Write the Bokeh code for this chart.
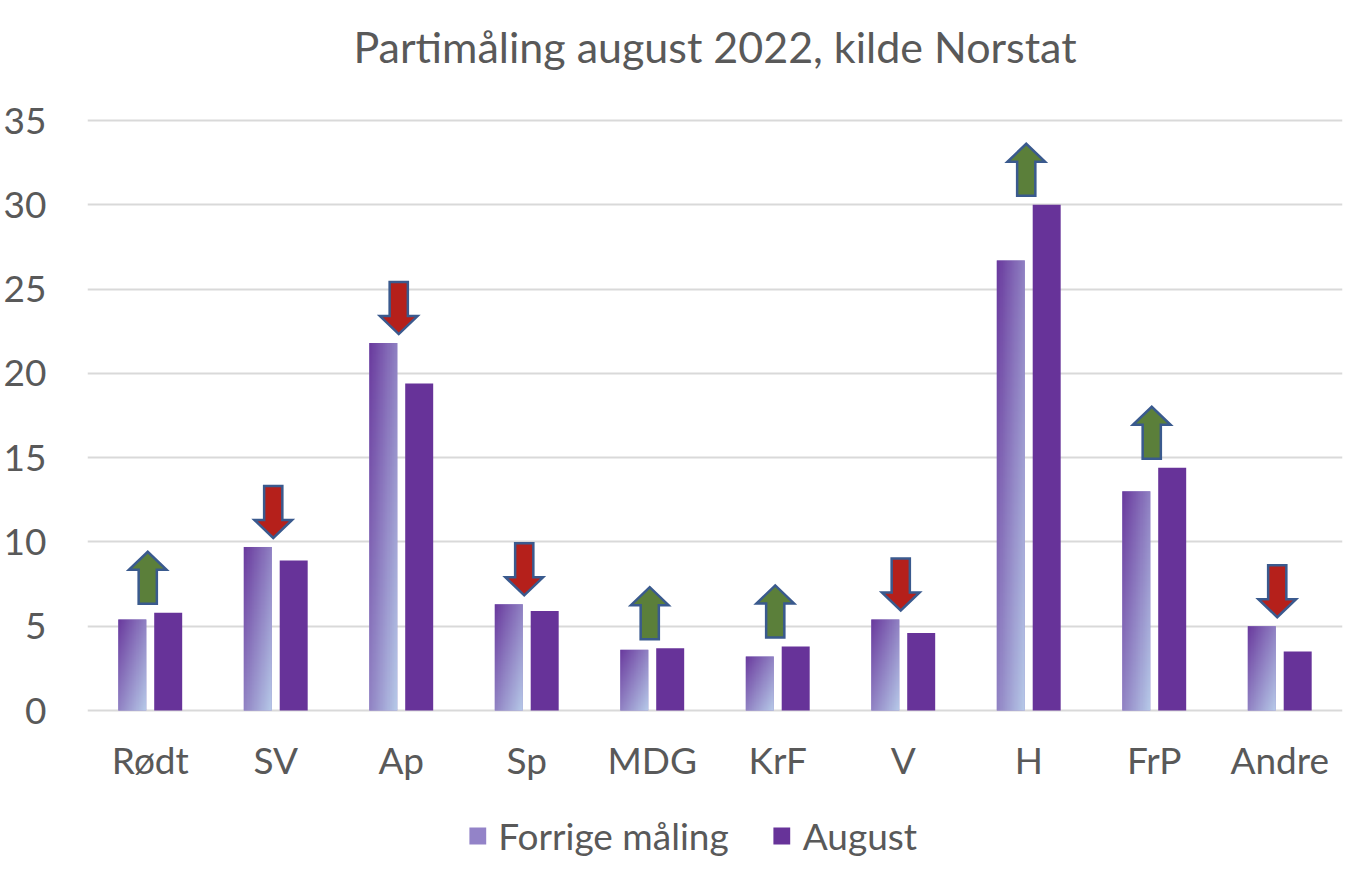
import numpy as np
from bokeh.plotting import figure
from bokeh.models import Range1d, FixedTicker, Legend, LegendItem, ColumnDataSource, Title
from bokeh.core.properties import value
from bokeh.embed import file_html
from bokeh.resources import INLINE

# ---- data ----
parties = ["Rødt", "SV", "Ap", "Sp", "MDG", "KrF", "V", "H", "FrP", "Andre"]
forrige = [5.4, 9.7, 21.8, 6.3, 3.6, 3.2, 5.4, 26.7, 13.0, 5.0]
august = [5.8, 8.9, 19.4, 5.9, 3.7, 3.8, 4.6, 30.0, 14.4, 3.5]
y_ticks = [0, 5, 10, 15, 20, 25, 30, 35]
title_text = "Partimåling august 2022, kilde Norstat"
series_names = ["Forrige måling", "August"]

FONT = "Lato"
TEXT = "#595959"
GRID = "#D9D9D9"
AUG_COLOR = "#673399"
GRAD_TOP = np.array([0x6A, 0x3A, 0x9E])
GRAD_BOT = np.array([0xB8, 0xCC, 0xEA])
UP_FILL = "#5B7F3A"
DOWN_FILL = "#B5201B"
ARROW_LINE = "#3A5A8E"

n = len(parties)
xs = np.arange(n)
bw = 0.223
off = 0.143

# layout: value axis spans 590 px for 0..35; frame continues below 0 to hold labels + legend
PLOT_PX = 592
Y_TOP = 35.12
upp = Y_TOP / PLOT_PX              # data units per pixel
BELOW_PX = 168
FRAME_H = PLOT_PX + BELOW_PX
y_bottom = -BELOW_PX * upp

p = figure(frame_width=1255, frame_height=FRAME_H, output_backend="svg", toolbar_location=None,
           x_range=Range1d(-0.5, n - 0.5), y_range=Range1d(y_bottom, Y_TOP),
           title_location=None, x_axis_location=None,
           min_border_left=79, min_border_right=4, min_border_top=118, min_border_bottom=0)
p.outline_line_color = None
p.background_fill_color = "white"
p.border_fill_color = "white"

# spacer (closest to the frame) and the real title above it
spacer = Title(text=" ", text_font_size="2px", standoff=41)
p.add_layout(spacer, "above")
title = Title(text=title_text, align="center", text_font=FONT, text_font_size="43px",
              text_font_style="normal", text_color=TEXT, standoff=4)
p.add_layout(title, "above")

# value axis
p.yaxis.ticker = FixedTicker(ticks=y_ticks)
p.yaxis.axis_line_color = None
p.yaxis.major_tick_line_color = None
p.yaxis.minor_tick_line_color = None
p.yaxis.major_label_text_font = FONT
p.yaxis.major_label_text_font_size = "37px"
p.yaxis.major_label_text_color = TEXT
p.yaxis.major_label_standoff = 35

p.xgrid.grid_line_color = None
p.ygrid.grid_line_color = GRID
p.ygrid.grid_line_width = 2

# category labels below the zero line
p.text(x=xs, y=[-49 * upp] * n, text=parties, text_align="center",
       text_baseline="alphabetic", text_font=value(FONT), text_font_size="37px",
       text_color=TEXT)

# Forrige: base bar (legend swatch colour) + gradient image on top
src = ColumnDataSource(dict(xf=xs - off, xa=xs + off, forrige=forrige, august=august))
r_forr = p.vbar(x="xf", top="forrige", width=bw, source=src,
                fill_color="#9383C8", line_color=None)

H, W = 200, 40
u = np.linspace(0, 1, W)[None, :]
v_from_top = 1 - np.linspace(0, 1, H)[:, None]
t = np.clip((u + v_from_top) / 2, 0, 1)
rgb = GRAD_TOP[None, None, :] * (1 - t[..., None]) + GRAD_BOT[None, None, :] * t[..., None]
img = np.zeros((H, W), dtype=np.uint32)
view = img.view(dtype=np.uint8).reshape((H, W, 4))
view[..., 0] = rgb[..., 0].astype(np.uint8)
view[..., 1] = rgb[..., 1].astype(np.uint8)
view[..., 2] = rgb[..., 2].astype(np.uint8)
view[..., 3] = 255
p.image_rgba(image=[img] * n, x=list(xs - off - bw / 2), y=[0] * n,
             dw=[bw] * n, dh=forrige)

r_aug = p.vbar(x="xa", top="august", width=bw, source=src,
               fill_color=AUG_COLOR, line_color=None)

# arrows derived from the change between the two series
gap = 9 * upp
head_h = 18 * upp
shaft_h = 34 * upp
head_w = 0.30
shaft_w = 0.145
ax, ay, acol = [], [], []
for i in range(n):
    base = max(forrige[i], august[i]) + gap
    c = xs[i] - 0.02
    top = base + head_h + shaft_h
    px = [c - shaft_w / 2, c + shaft_w / 2, c + shaft_w / 2, c + head_w / 2, c,
          c - head_w / 2, c - shaft_w / 2]
    if august[i] >= forrige[i]:
        py = [base, base, base + shaft_h, base + shaft_h, top, base + shaft_h, base + shaft_h]
        acol.append(UP_FILL)
    else:
        py = [top, top, base + head_h, base + head_h, base, base + head_h, base + head_h]
        acol.append(DOWN_FILL)
    ax.append(px)
    ay.append(py)
p.patches(xs=ax, ys=ay, fill_color=acol, line_color=ARROW_LINE, line_width=2.5,
          line_join="miter")

legend = Legend(items=[LegendItem(label=series_names[0], renderers=[r_forr]),
                       LegendItem(label=series_names[1], renderers=[r_aug])],
                orientation="horizontal", location="bottom_center",
                label_text_font=FONT, label_text_font_size="37px",
                label_text_color=TEXT, glyph_width=21, glyph_height=21,
                spacing=42, label_standoff=11, label_width=160,
                border_line_color=None, background_fill_alpha=0, margin=20, padding=5)
p.add_layout(legend, "center")

open("out.html", "w").write(file_html(p, INLINE))
